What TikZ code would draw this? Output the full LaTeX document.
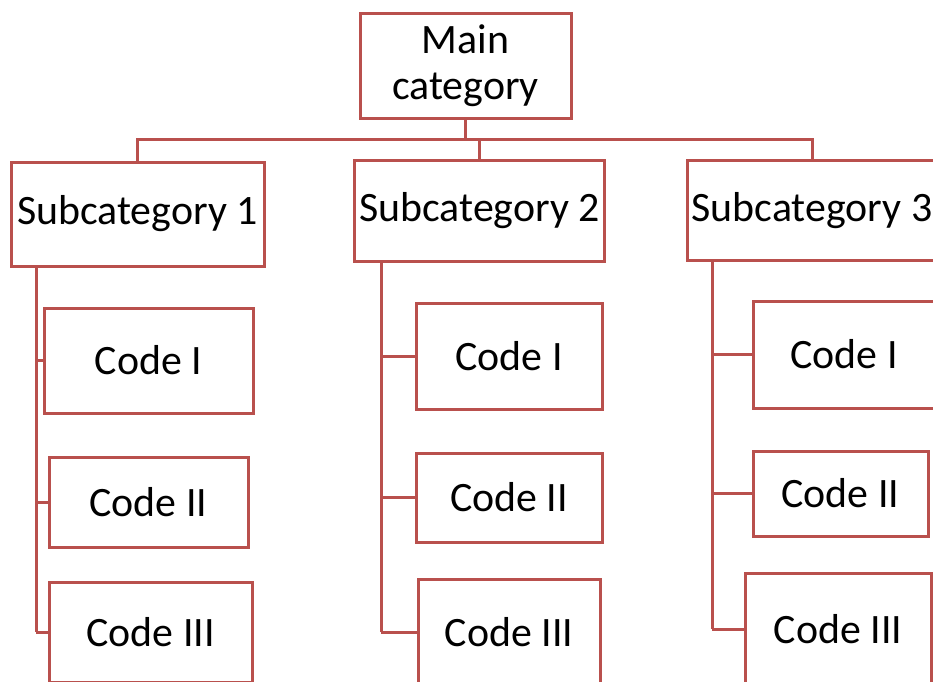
\documentclass[tikz,border=0pt]{standalone}
\usepackage{fontspec}
\setmainfont{Carlito}
\definecolor{boxred}{RGB}{185,80,77}
\tikzset{
  box/.style={draw=boxred,line width=2.25pt,inner sep=0pt,align=center,
    font=\fontsize{31.4}{34.5}\selectfont},
  link/.style={draw=boxred,line width=2.25pt}
}
\begin{document}
\begin{tikzpicture}[x=0.75pt,y=-0.75pt]
                \clip (0,0) rectangle (933,682);
                \node[box,minimum width=158.25pt,minimum height=78.75pt] (main) at (465.5,65.5) {Main\\category};
                \node[box,minimum width=189.75pt,minimum height=78pt] (sub1) at (137.5,214) {Subcategory 1};
                \node[box,minimum width=187.5pt,minimum height=75.75pt] (sub2) at (479.5,210.5) {Subcategory 2};
                \node[box,minimum width=187.5pt,minimum height=75pt] (sub3) at (812,210.5) {Subcategory 3};
                % codes, one column per subcategory
                \node[box,minimum width=156.75pt,minimum height=78.75pt] (c11) at (148.5,360.5) {Code I};
                \node[box,minimum width=149.25pt,minimum height=67.5pt] (c12) at (148.5,502) {Code II};
                \node[box,minimum width=152.25pt,minimum height=75pt] (c13) at (150.5,632) {Code III};
                \node[box,minimum width=139.5pt,minimum height=79.5pt] (c21) at (509,356) {Code I};
                \node[box,minimum width=139.5pt,minimum height=66.75pt] (c22) at (509,497.5) {Code II};
                \node[box,minimum width=136.5pt,minimum height=79.5pt] (c23) at (509,632) {Code III};
                \node[box,minimum width=136.5pt,minimum height=80.25pt] (c31) at (844,354.5) {Code I};
                \node[box,minimum width=131.25pt,minimum height=63.75pt] (c32) at (840.5,493.5) {Code II};
                \node[box,minimum width=139.5pt,minimum height=84pt] (c33) at (838,629) {Code III};
                % bus under the main box
                \coordinate (bus) at (0,139);
                \draw[link] (main.south) -- (main.south |- bus);
                \draw[link] (sub1.north) -- (sub1.north |- bus) -- (sub3.north |- bus) -- (sub3.north);
                \draw[link] (sub2.north) -- (sub2.north |- bus);
                % spines down the left of each column
                \coordinate (s1) at (36,0);
                \coordinate (s2) at (381,0);
                \coordinate (s3) at (712,0);
                \foreach \i in {1,2,3} {
                    \draw[link] (sub\i.south -| s\i) -- (s\i |- c\i3.west);
                    \foreach \j in {1,2,3}
                        \draw[link] (s\i |- c\i\j.west) -- (c\i\j.west);
                }
            \end{tikzpicture}
\end{document}
